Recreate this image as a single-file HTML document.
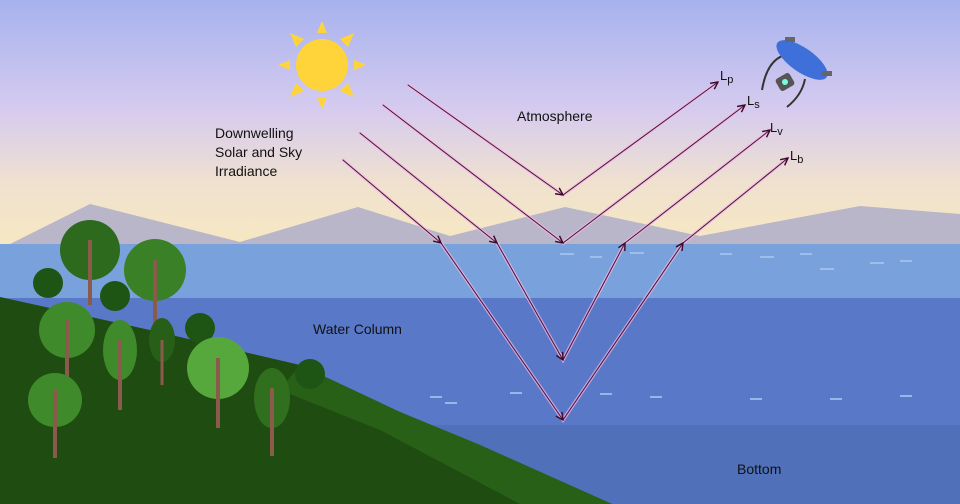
<!DOCTYPE html>
<html><head><meta charset="utf-8"><style>
html,body{margin:0;padding:0;width:960px;height:504px;overflow:hidden}
svg{display:block}
text{font-family:"Liberation Sans","DejaVu Sans",sans-serif;fill:#111;}
</style></head><body>
<svg width="960" height="504" viewBox="0 0 960 504" xmlns="http://www.w3.org/2000/svg">
<defs>
<linearGradient id="sky" x1="0" y1="0" x2="0" y2="1">
<stop offset="0" stop-color="#a6b2ee"/>
<stop offset="0.45" stop-color="#d6cbef"/>
<stop offset="0.75" stop-color="#f0e1cf"/>
<stop offset="1" stop-color="#f6e8c2"/>
</linearGradient>
<marker id="ah" viewBox="0 0 10 10" refX="9" refY="5" markerWidth="9" markerHeight="9" orient="auto" markerUnits="userSpaceOnUse">
<path d="M1,1 L9,5 L1,9" fill="none" stroke="#3a0a2a" stroke-width="1.6"/>
</marker>
</defs>
<rect width="960" height="245" fill="url(#sky)"/>
<!-- mountains -->
<polygon points="8,245 90,204 240,242 358,207 450,236 565,207 700,236 860,206 960,214 960,245" fill="#b8b6c8"/>
<!-- water -->
<rect y="244" width="960" height="55" fill="#79a2dc"/>
<rect y="298" width="960" height="128" fill="#5a78c8"/>
<rect y="425" width="960" height="79" fill="#5070b9"/>
<g fill="#a9c6f0" opacity="0.8">
<rect x="560" y="253" width="14" height="2"/><rect x="590" y="256" width="12" height="2"/><rect x="630" y="252" width="14" height="2"/><rect x="720" y="253" width="12" height="2"/><rect x="760" y="256" width="14" height="2"/><rect x="800" y="253" width="12" height="2"/><rect x="820" y="268" width="14" height="2"/><rect x="870" y="262" width="14" height="2"/><rect x="900" y="260" width="12" height="2"/>
<rect x="510" y="392" width="12" height="2"/><rect x="600" y="393" width="12" height="2"/><rect x="650" y="396" width="12" height="2"/><rect x="750" y="398" width="12" height="2"/><rect x="830" y="398" width="12" height="2"/><rect x="900" y="395" width="12" height="2"/><rect x="430" y="396" width="12" height="2"/><rect x="445" y="402" width="12" height="2"/>
</g>
<!-- hill -->
<polygon points="0,297 150,330 300,365 400,412 480,445 612,504 0,504" fill="#1f4c10"/>
<polygon points="300,365 400,412 480,445 612,504 520,504 380,430 280,390" fill="#2c6519" opacity="0.8"/>
<!-- trees -->
<g>
<g transform="translate(90,250)"><circle r="30" fill="#2d6a1e"/><path d="M0,-10 L0,55" stroke="#8a5a4a" stroke-width="4"/></g>
<g transform="translate(155,270)"><circle r="31" fill="#3a8026"/><path d="M0,-10 L0,55" stroke="#8a5a4a" stroke-width="4"/></g>
<g transform="translate(48,283)"><circle r="15" fill="#1f5514"/></g>
<g transform="translate(115,296)"><circle r="15" fill="#1f5514"/></g>
<g transform="translate(67,330)"><circle r="28" fill="#3f8a2a"/><path d="M0,-10 L0,50" stroke="#8a5a4a" stroke-width="4"/></g>
<g transform="translate(120,350)"><ellipse rx="17" ry="30" fill="#3f8a2a"/><path d="M0,-10 L0,60" stroke="#8a5a4a" stroke-width="4"/></g>
<g transform="translate(162,340)"><ellipse rx="13" ry="22" fill="#275f18"/><path d="M0,0 L0,45" stroke="#8a5a4a" stroke-width="3"/></g>
<g transform="translate(200,328)"><circle r="15" fill="#1f5514"/></g>
<g transform="translate(218,368)"><circle r="31" fill="#57a83c"/><path d="M0,-10 L0,60" stroke="#8a5a4a" stroke-width="4"/></g>
<g transform="translate(55,400)"><circle r="27" fill="#3f8a2a"/><path d="M0,-10 L0,58" stroke="#8a5a4a" stroke-width="4"/></g>
<g transform="translate(272,398)"><ellipse rx="18" ry="30" fill="#2f6f1e"/><path d="M0,-10 L0,58" stroke="#8a5a4a" stroke-width="4"/></g>
<g transform="translate(310,374)"><circle r="15" fill="#1f5514"/></g>
</g>
<!-- sun -->
<g transform="translate(322,65)">
<circle r="26" fill="#ffd43a"/>
<g fill="#ffd43a">
<polygon points="-5,-32 5,-32 0,-44"/><polygon points="-5,32 5,32 0,44"/>
<polygon points="-32,-5 -32,5 -44,0"/><polygon points="32,-5 32,5 44,0"/>
<polygon points="-26,-18 -18,-26 -32,-32"/><polygon points="26,-18 18,-26 32,-32"/>
<polygon points="-26,18 -18,26 -32,32"/><polygon points="26,18 18,26 32,32"/>
</g></g>
<!-- drone -->
<g transform="translate(797,65)">
<path d="M-12,-10 Q-30,-5 -35,25" stroke="#333" stroke-width="2" fill="none"/>
<path d="M8,14 Q5,30 -10,42" stroke="#333" stroke-width="2" fill="none"/>
<ellipse cx="5" cy="-5" rx="30" ry="12" transform="rotate(35 5 -5)" fill="#3f6fd8"/>
<rect x="-20" y="10" width="16" height="14" rx="3" fill="#555" transform="rotate(-30 -12 17)"/>
<circle cx="-12" cy="17" r="3" fill="#7fd"/>
<rect x="-12" y="-28" width="10" height="5" fill="#666"/><rect x="25" y="6" width="10" height="5" fill="#666"/>
</g>
<!-- arrows -->
<g fill="none" stroke-linecap="round">
<g stroke="#f2b8e4" stroke-width="3.5" opacity="0.7">
<polyline points="408,85 563,195 718,82"/>
<polyline points="383,105 563,243 745,105"/>
<polyline points="360,133 497,243 563,360 625,243 770,130"/>
<polyline points="343,160 441,243 563,420 683,243 788,158"/>
</g>
<g stroke="#4a1038" stroke-width="1">
<line x1="408" y1="85" x2="563" y2="195" marker-end="url(#ah)"/>
<line x1="563" y1="195" x2="718" y2="82" marker-end="url(#ah)"/>
<line x1="383" y1="105" x2="563" y2="243" marker-end="url(#ah)"/>
<line x1="563" y1="243" x2="745" y2="105" marker-end="url(#ah)"/>
<line x1="360" y1="133" x2="497" y2="243" marker-end="url(#ah)"/>
<line x1="497" y1="243" x2="563" y2="360" marker-end="url(#ah)"/>
<line x1="563" y1="360" x2="625" y2="243" marker-end="url(#ah)"/>
<line x1="625" y1="243" x2="770" y2="130"  marker-end="url(#ah)"/>
<line x1="343" y1="160" x2="441" y2="243" marker-end="url(#ah)"/>
<line x1="441" y1="243" x2="563" y2="420" marker-end="url(#ah)"/>
<line x1="563" y1="420" x2="683" y2="243" marker-end="url(#ah)"/>
<line x1="683" y1="243" x2="788" y2="158" marker-end="url(#ah)"/>
</g></g>
<!-- labels -->
<text x="720" y="80" font-size="13">L<tspan font-size="11" dy="3">p</tspan></text>
<text x="747" y="105" font-size="13">L<tspan font-size="11" dy="3">s</tspan></text>
<text x="770" y="132" font-size="13">L<tspan font-size="11" dy="3">v</tspan></text>
<text x="790" y="160" font-size="13">L<tspan font-size="11" dy="3">b</tspan></text>
<text x="215" y="138" font-size="14">Downwelling</text>
<text x="215" y="157" font-size="14">Solar and Sky</text>
<text x="215" y="176" font-size="14">Irradiance</text>
<text x="517" y="121" font-size="14">Atmosphere</text>
<text x="313" y="334" font-size="14">Water Column</text>
<text x="737" y="474" font-size="14">Bottom</text>
</svg>
</body></html>
